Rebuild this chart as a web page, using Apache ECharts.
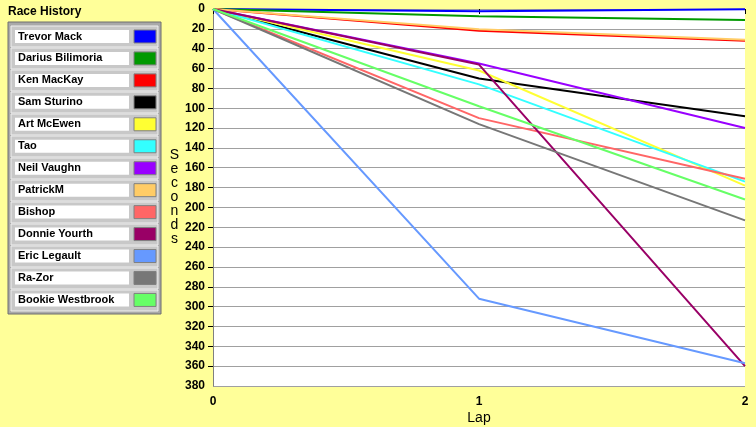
<html>

<head>
    <script src="https://cdn.jsdelivr.net/npm/echarts@6/dist/echarts.min.js"></script>
</head>
<style>
    body {
        margin: 0;
        background: #ffff99;
    }

    #race {
        width: 756px;
        height: 427px;
    }
</style>

<body>
    <div id="race"></div>
    <script>
        // lap numbers on the x axis
        const laps = [0, 1, 2]
        // end labels of the seconds axis
        const secondsEnds = [0, 380]

        // seconds per driver, read at lap 0, 1, 2
        const trevorMack = [0, 2.3, 0.3]
        const dariusBilimoria = [0, 7.3, 11]
        const kenMacKay = [0, 22, 32]
        const samSturino = [0, 70, 108]
        const artMcEwen = [0, 62, 178]
        const tao = [0, 76, 174]
        const neilVaughn = [0, 55, 120]
        const patrickM = [0, 20.5, 31]
        const bishop = [0, 110, 171]
        const donnieYourth = [0, 56, 360]
        const ericLegault = [0, 292, 357]
        const raZor = [0, 116, 213]
        const bookieWestbrook = [0, 98, 192]

        const drivers = ['Trevor Mack', 'Darius Bilimoria', 'Ken MacKay', 'Sam Sturino', 'Art McEwen', 'Tao',
            'Neil Vaughn', 'PatrickM', 'Bishop', 'Donnie Yourth', 'Eric Legault', 'Ra-Zor', 'Bookie Westbrook']
        const times = [trevorMack, dariusBilimoria, kenMacKay, samSturino, artMcEwen, tao,
            neilVaughn, patrickM, bishop, donnieYourth, ericLegault, raZor, bookieWestbrook]
        const colors = ['#0000ff', '#009900', '#ff0000', '#000000', '#ffff33', '#33ffff',
            '#9900ff', '#ffcc66', '#ff6666', '#990066', '#6699ff', '#777777', '#66ff66']

        const font = 'Liberation Sans'

        let series = drivers.map(function (name, i) {
            return {
                name: name,
                type: 'line',
                data: laps.map(function (lap, j) { return [lap, times[i][j]] }),
                showSymbol: false,
                lineStyle: { width: 2, color: colors[i] },
                itemStyle: { color: colors[i] }
            }
        })

        // gray legend frame behind the legend rows
        let frame = [{
            type: 'rect',
            shape: { x: 8, y: 22, width: 153, height: 292 },
            style: { fill: '#a9a9a9', stroke: '#6e6e6e', lineWidth: 1 },
            z: 0
        }]
        drivers.forEach(function (d, i) {
            frame.push({
                type: 'rect',
                shape: { x: 11, y: 26 + 22 * i, width: 147, height: 21 },
                style: { fill: '#c8c8c8', stroke: '#eeeeee', lineWidth: 1 },
                z: 0
            })
        })

        const tickLabel = {
            fontFamily: font, fontSize: 12, fontWeight: 'bold', color: '#000', lineHeight: 12
        }

        const option = {
            animation: false,
            backgroundColor: '#ffff99',
            title: {
                text: 'Race History',
                left: 8,
                top: 1,
                padding: 0,
                textStyle: { fontFamily: font, fontSize: 12, fontWeight: 'bold', color: '#000' }
            },
            graphic: frame,
            legend: {
                orient: 'vertical',
                left: 15,
                top: 27,
                padding: 0,
                align: 'right',
                itemGap: 3,
                itemWidth: 22,
                itemHeight: 13,
                icon: 'rect',
                selectedMode: false,
                itemStyle: { borderColor: '#808080', borderWidth: 1 },
                formatter: function (name) { return '{n|' + name + '}' },
                textStyle: {
                    fontFamily: font,
                    fontSize: 11,
                    fontWeight: 'bold',
                    color: '#000',
                    rich: {
                        n: {
                            width: 111,
                            height: 13,
                            lineHeight: 13,
                            align: 'left',
                            padding: [0, 0, 0, 3],
                            backgroundColor: '#ffffff',
                            fontFamily: font,
                            fontSize: 11,
                            fontWeight: 'bold',
                            color: '#000'
                        }
                    }
                },
                data: drivers
            },
            grid: {
                left: 213,
                right: 11,
                top: 9,
                bottom: 41,
                outerBoundsMode: 'none',
                show: true,
                backgroundColor: '#ffffff',
                borderWidth: 0
            },
            xAxis: {
                type: 'value',
                min: 0,
                max: 2,
                interval: 1,
                name: 'Lap',
                nameLocation: 'middle',
                nameGap: 20,
                nameMoveOverlap: false,
                nameTextStyle: { fontFamily: font, fontSize: 14, color: '#000', verticalAlign: 'top' },
                axisLine: { show: false },
                axisTick: { show: true, length: 5, lineStyle: { color: '#000' } },
                axisLabel: Object.assign({ margin: 10, showMinLabel: true, showMaxLabel: true }, tickLabel),
                splitLine: { show: false }
            },
            yAxis: [{
                type: 'value',
                inverse: true,
                min: 0,
                max: 380,
                interval: 20,
                name: 'S\ne\nc\no\nn\nd\ns',
                nameLocation: 'middle',
                nameRotate: 0,
                nameGap: 33,
                nameTextStyle: { fontFamily: font, fontSize: 14, lineHeight: 14, color: '#000', align: 'center' },
                axisLine: { show: true, lineStyle: { color: '#808080', width: 1 } },
                axisTick: { show: true, length: 5, lineStyle: { color: '#000' } },
                axisLabel: Object.assign({ margin: 8, padding: [4, 0, 0, 0], showMinLabel: false, showMaxLabel: false }, tickLabel),
                splitLine: { show: true, lineStyle: { color: '#a0a0a0', width: 1 } }
            }, {
                // second copy of the same scale, only for the 0 and 380 labels
                type: 'value',
                inverse: true,
                position: 'left',
                min: 0,
                max: 380,
                axisLine: { show: false },
                axisTick: { show: false },
                axisLabel: Object.assign({ margin: 8, padding: [4, 0, 0, 0], customValues: secondsEnds, showMinLabel: true, showMaxLabel: true }, tickLabel),
                splitLine: { show: false }
            }],
            series: series
        }

        const myChart = echarts.init(document.getElementById('race'))
        myChart.setOption(option)
    </script>
</body>

</html>
